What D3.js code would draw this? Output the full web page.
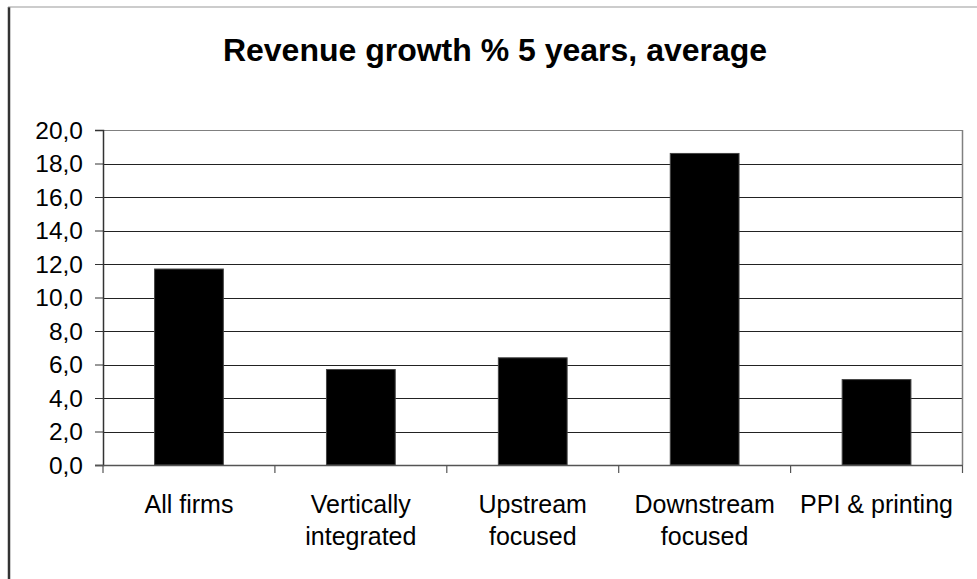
<!DOCTYPE html>
<html>
<head>
<meta charset="utf-8">
<script src="https://cdn.jsdelivr.net/npm/d3@7/dist/d3.min.js"></script>
<style>
  html, body { margin: 0; padding: 0; background: #fff; }
  svg { display: block; }
  text { font-family: "Liberation Sans", Arial, sans-serif; fill: #000; }
</style>
</head>
<body>
<svg id="chart" width="977" height="579"></svg>
<script>
const title = "Revenue growth % 5 years, average";
const categories = [["All firms"], ["Vertically", "integrated"], ["Upstream", "focused"], ["Downstream", "focused"], ["PPI & printing"]];
const values = [11.7, 5.7, 6.4, 18.6, 5.1];
const yTicks = [0, 2, 4, 6, 8, 10, 12, 14, 16, 18, 20];
const yTickLabels = ["0,0", "2,0", "4,0", "6,0", "8,0", "10,0", "12,0", "14,0", "16,0", "18,0", "20,0"];

const svg = d3.select("#chart");
const W = 977, H = 579;
const plot = { left: 103, right: 962.5, top: 130, bottom: 465 };

// outer chart border (left and top visible)
svg.append("line").attr("x1", 9).attr("x2", 9).attr("y1", 7).attr("y2", H)
  .attr("stroke", "#333").attr("stroke-width", 2.5);
svg.append("line").attr("x1", 8).attr("x2", W).attr("y1", 7).attr("y2", 7)
  .attr("stroke", "#999").attr("stroke-width", 1);

// title
svg.append("text").attr("x", 495).attr("y", 61)
  .attr("text-anchor", "middle").attr("font-weight", "bold")
  .attr("font-size", 32).text(title);

const idx = categories.map((d, i) => i);
const x = d3.scaleBand().domain(idx).range([plot.left, plot.right]).paddingInner(0.6).paddingOuter(0.3);
const xOuter = d3.scaleBand().domain(idx).range([plot.left, plot.right]);
const y = d3.scaleLinear().domain([0, 20]).range([plot.bottom, plot.top]);

// gridlines
svg.append("g").selectAll("line").data(yTicks.filter(t => t > 0 && t < 20)).join("line")
  .attr("x1", plot.left).attr("x2", plot.right)
  .attr("y1", d => Math.round(y(d)) + 0.5).attr("y2", d => Math.round(y(d)) + 0.5)
  .attr("stroke", "#222").attr("stroke-width", 1.2);

// plot area border top & right
svg.append("line").attr("x1", plot.left).attr("x2", plot.right)
  .attr("y1", plot.top + 0.5).attr("y2", plot.top + 0.5).attr("stroke", "#808080");
svg.append("line").attr("x1", plot.right).attr("x2", plot.right)
  .attr("y1", plot.top).attr("y2", plot.bottom).attr("stroke", "#808080").attr("stroke-width", 1.5);

// bars
svg.append("g").selectAll("rect").data(values).join("rect")
  .attr("x", (d, i) => x(i)).attr("width", x.bandwidth())
  .attr("y", d => y(d)).attr("height", d => y(0) - y(d))
  .attr("fill", "#000").attr("stroke", "#444").attr("stroke-width", 1);

// y axis
const yAxis = d3.axisLeft(y).tickValues(yTicks).tickSize(8).tickPadding(12)
  .tickFormat((d, i) => yTickLabels[i]);
const gy = svg.append("g").attr("transform", `translate(${plot.left},0)`).call(yAxis);
gy.select(".domain").attr("stroke", "#333").attr("stroke-width", 1.5);
gy.selectAll(".tick line").attr("stroke", "#333");
gy.selectAll(".tick text").attr("font-size", 24.5).attr("font-family", "Liberation Sans, Arial, sans-serif").attr("fill", "#000").attr("dy", "0.33em");

// x axis
const gx = svg.append("g").attr("transform", `translate(0,${plot.bottom})`);
gx.append("line").attr("x1", plot.left - 8).attr("x2", plot.right).attr("y1", 0.5).attr("y2", 0.5)
  .attr("stroke", "#555").attr("stroke-width", 1.5);
const boundaries = idx.map(i => xOuter(i)).concat([plot.right]);
gx.selectAll("line.tk").data(boundaries).join("line").attr("class", "tk")
  .attr("x1", d => d).attr("x2", d => d).attr("y1", 0).attr("y2", 8)
  .attr("stroke", "#555").attr("stroke-width", 1.2);

const labels = svg.append("g").selectAll("text").data(categories).join("text")
  .attr("x", (d, i) => xOuter(i) + xOuter.bandwidth() / 2)
  .attr("y", 513)
  .attr("text-anchor", "middle").attr("font-size", 25);
labels.selectAll("tspan").data(d => d).join("tspan")
  .attr("x", function() { return this.parentNode.getAttribute("x"); })
  .attr("dy", (d, i) => i === 0 ? 0 : 32)
  .text(d => d);
</script>
</body>
</html>
